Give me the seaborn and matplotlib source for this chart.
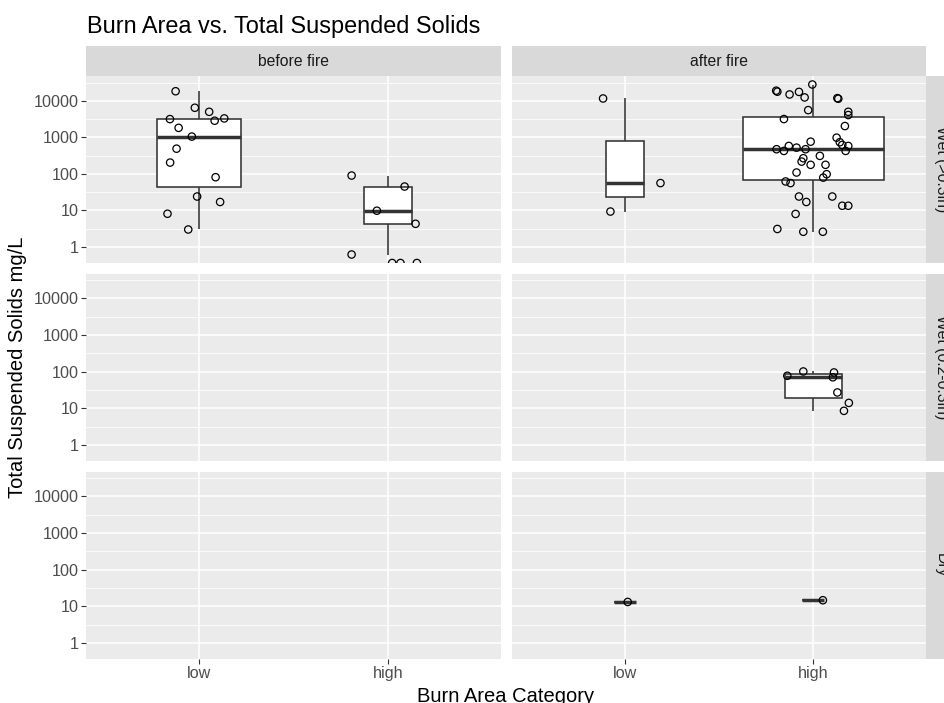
import numpy as np
import pandas as pd
import matplotlib
matplotlib.use("Agg")
import matplotlib.pyplot as plt
from matplotlib.ticker import FixedLocator, NullFormatter, NullLocator
import seaborn as sns

# ---------------- data ----------------
fire_levels = ["before fire", "after fire"]
weather_levels = ["Wet (>0.3in)", "Wet (0.2-0.3in)", "Dry"]
burn_levels = ["low", "high"]
y_breaks = [1, 10, 100, 1000, 10000]
y_break_labels = ["1", "10", "100", "1000", "10000"]

title = "Burn Area vs. Total Suspended Solids"
x_title = "Burn Area Category"
y_title = "Total Suspended Solids mg/L"

# Wet (>0.3in) / before fire
wet_hi_before_low_tss = [18300, 6460, 5000, 3160, 2850, 3300, 1820, 1050, 490, 204, 81, 24, 17, 8.1, 3.0]
wet_hi_before_low_jit = [-0.125, -0.023, 0.053, -0.155, 0.082, 0.133, -0.109, -0.039, -0.120, -0.154,
                         0.087, -0.011, 0.111, -0.168, -0.058]
wet_hi_before_high_tss = [90, 45, 9.8, 4.3, 0.62, 0, 0, 0]
wet_hi_before_high_jit = [-0.192, 0.089, -0.058, 0.147, -0.192, 0.023, 0.067, 0.154]

# Wet (>0.3in) / after fire
wet_hi_after_low_tss = [11600, 56, 9.3]
wet_hi_after_low_jit = [-0.116, 0.189, -0.077]
wet_hi_after_high_tss = [28000, 18970, 17800, 14960, 17580, 12380, 5570, 3170, 11850, 11410,
                         5010, 4080, 2040, 762, 980, 735, 620, 582, 425, 473,
                         425, 582, 523, 473, 268, 217, 177, 311, 177, 109,
                         98, 79, 62, 56, 24, 17, 24, 13.4, 13.4, 8.0,
                         3.1, 2.6, 2.6]
wet_hi_after_high_jit = [-0.004, -0.196, -0.190, -0.125, -0.075, -0.045, -0.026, -0.155, 0.129, 0.134,
                         0.187, 0.187, 0.169, -0.013, 0.125, 0.142, 0.155, 0.187, 0.173, -0.194,
                         -0.155, -0.129, -0.088, -0.040, -0.052, -0.061, -0.013, 0.036, 0.066, -0.088,
                         0.072, 0.054, -0.146, -0.120, -0.075, -0.036, 0.102, 0.155, 0.187, -0.093,
                         -0.190, -0.052, 0.052]

# Wet (0.2-0.3in) / after fire
wet_mid_after_high_tss = [77, 101, 95, 70, 27, 14, 8.5]
wet_mid_after_high_jit = [-0.137, -0.052, 0.111, 0.105, 0.129, 0.190, 0.164]

# Dry / after fire
dry_after_low_tss = [13.1]
dry_after_low_jit = [0.015]
dry_after_high_tss = [14.6]
dry_after_high_jit = [0.052]

groups = [
    ("before fire", "Wet (>0.3in)", "low", wet_hi_before_low_tss, wet_hi_before_low_jit),
    ("before fire", "Wet (>0.3in)", "high", wet_hi_before_high_tss, wet_hi_before_high_jit),
    ("after fire", "Wet (>0.3in)", "low", wet_hi_after_low_tss, wet_hi_after_low_jit),
    ("after fire", "Wet (>0.3in)", "high", wet_hi_after_high_tss, wet_hi_after_high_jit),
    ("after fire", "Wet (0.2-0.3in)", "high", wet_mid_after_high_tss, wet_mid_after_high_jit),
    ("after fire", "Dry", "low", dry_after_low_tss, dry_after_low_jit),
    ("after fire", "Dry", "high", dry_after_high_tss, dry_after_high_jit),
]
rows = []
for fire, weather, burn, tss, jit in groups:
    for v, j in zip(tss, jit):
        rows.append({"fire": fire, "weather": weather, "burn": burn, "tss": v, "jit": j})
df = pd.DataFrame(rows)

# ---------------- style ----------------
FONT = ["Liberation Sans", "DejaVu Sans"]
plt.rcParams["font.family"] = FONT
PANEL_BG = "#EBEBEB"
STRIP_BG = "#D9D9D9"
GRID = "white"
BOX_EDGE = "#333333"
TICK_TXT = "#4D4D4D"
STRIP_TXT = "#1A1A1A"
BOX_W = 0.75

W, H = 944, 703
fig = plt.figure(figsize=(W / 100, H / 100), dpi=100)
fig.patch.set_facecolor("white")

col_x = [(86, 501), (512, 926)]
row_y = [(76, 263), (273.5, 461), (471.5, 659)]


def rect(x0, x1, y0, y1):
    return [x0 / W, 1 - y1 / H, (x1 - x0) / W, (y1 - y0) / H]


pos_data = df.loc[df.tss > 0, "tss"]
lo, hi = np.log10(pos_data.min()), np.log10(pos_data.max())
pad = 0.05 * (hi - lo)
ylim = (10 ** (lo - pad), 10 ** (hi + pad))

n_max = df[df.tss > 0].groupby(["fire", "weather", "burn"]).size().max()
burn_pos = {b: i for i, b in enumerate(burn_levels)}

for r, weather in enumerate(weather_levels):
    for c, fire in enumerate(fire_levels):
        ax = fig.add_axes(rect(col_x[c][0], col_x[c][1], row_y[r][0], row_y[r][1]))
        ax.set_facecolor(PANEL_BG)
        ax.set_yscale("log")
        sub = df[(df.weather == weather) & (df.fire == fire)]
        for b in burn_levels:
            g = sub[(sub.burn == b) & (sub.tss > 0)]
            if len(g) == 0:
                continue
            width = BOX_W * np.sqrt(len(g) / n_max)
            sns.boxplot(data=g, x="burn", y="tss", order=burn_levels, width=width,
                        log_scale=True, ax=ax, color="white", saturation=1,
                        linecolor=BOX_EDGE, linewidth=1.15, showcaps=False,
                        showfliers=False, whis=1.5,
                        medianprops={"linewidth": 2.5, "color": BOX_EDGE})
        if len(sub):
            xs = sub.burn.map(burn_pos) + sub.jit
            ys = sub.tss.where(sub.tss > 0, ylim[0])
            ax.scatter(xs, ys, s=28, facecolors="none", edgecolors="black",
                       linewidths=0.9, zorder=5)
        ax.set_xlabel("")
        ax.set_ylabel("")
        ax.set_xlim(-0.6, 1.6)
        ax.set_ylim(*ylim)
        ax.xaxis.set_major_locator(FixedLocator([0, 1]))
        ax.xaxis.set_minor_locator(NullLocator())
        ax.set_xticklabels(burn_levels)
        ax.yaxis.set_major_locator(FixedLocator(y_breaks))
        ax.set_yticklabels(y_break_labels)
        ax.yaxis.set_minor_locator(FixedLocator([10 ** (k + 0.5) for k in range(-1, 5)]))
        ax.yaxis.set_minor_formatter(NullFormatter())
        ax.grid(which="major", color=GRID, linewidth=1.1)
        ax.grid(which="minor", axis="y", color=GRID, linewidth=0.55)
        ax.set_axisbelow(True)
        for s in ax.spines.values():
            s.set_visible(False)
        ax.tick_params(which="major", length=3.6, width=0.8, color=BOX_EDGE,
                       labelcolor=TICK_TXT, labelsize=11.6, pad=1.5)
        ax.tick_params(which="minor", length=0)
        if c != 0:
            ax.tick_params(axis="y", length=0, labelleft=False)
        if r != len(weather_levels) - 1:
            ax.tick_params(axis="x", length=0, labelbottom=False)

# top strips
for c, fire in enumerate(fire_levels):
    sax = fig.add_axes(rect(col_x[c][0], col_x[c][1], 46, 76))
    sax.set_facecolor(STRIP_BG)
    sax.set_xticks([]); sax.set_yticks([])
    for s in sax.spines.values():
        s.set_visible(False)
    sax.text(0.5, 0.5, fire, ha="center", va="center", color=STRIP_TXT,
             fontsize=11.3, transform=sax.transAxes)

# right strips (cut off by the figure edge as in the original)
for r, weather in enumerate(weather_levels):
    sax = fig.add_axes(rect(926, 956, row_y[r][0], row_y[r][1]))
    sax.set_facecolor(STRIP_BG)
    sax.set_xticks([]); sax.set_yticks([])
    for s in sax.spines.values():
        s.set_visible(False)
    sax.text(0.5, 0.5, weather, ha="center", va="center", rotation=-90,
             color=STRIP_TXT, fontsize=11.3, transform=sax.transAxes)

fig.text(87 / W, 1 - 33.3 / H, title, ha="left", va="baseline", fontsize=16.9, color="black")
fig.text(506 / W, 1 - 702.5 / H, x_title, ha="center", va="baseline", fontsize=14.5, color="black")
fig.text(18 / W, 1 - 367.5 / H, y_title, ha="center", va="center", rotation=90,
         fontsize=14.5, color="black")

fig.savefig("out.png", dpi=100)
